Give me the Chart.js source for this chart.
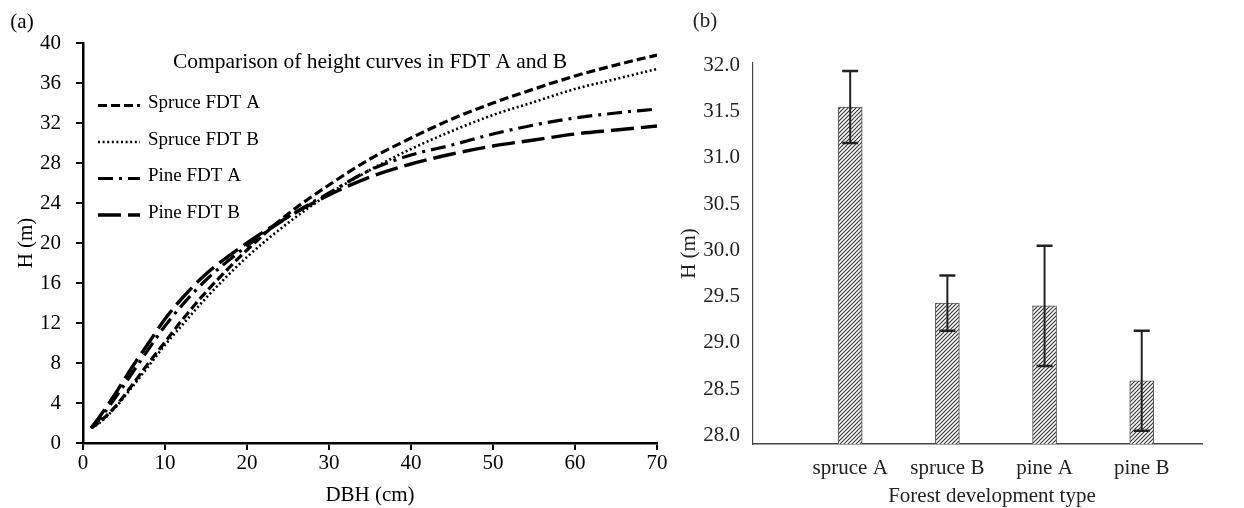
<!DOCTYPE html>
<html><head><meta charset="utf-8">
<script src="https://cdn.jsdelivr.net/npm/chart.js@4.4.1/dist/chart.umd.min.js"></script>
<style>
html,body{margin:0;padding:0;background:#fff;width:1244px;height:508px;overflow:hidden}
#ca{position:absolute;left:0;top:0}
#cb{position:absolute;left:680px;top:0}
</style></head><body>
<canvas id="ca" width="680" height="508"></canvas>
<canvas id="cb" width="564" height="508"></canvas>
<script>
// ---- Panel (a): height curves ----
const dbh      = [1, 2, 4, 6, 8, 10, 12, 15, 20, 25, 30, 35, 40, 45, 50, 55, 60, 65, 70];
const spruceA  = [1.5, 2.1, 3.7, 5.8, 8.0, 10.1, 12.2, 15.1, 19.3, 22.9, 25.8, 28.4, 30.5, 32.4, 34.0, 35.4, 36.7, 37.8, 38.8];
const spruceB  = [1.5, 2.0, 3.6, 5.6, 7.7, 9.8, 11.7, 14.5, 18.6, 22.0, 24.9, 27.3, 29.4, 31.2, 32.8, 34.1, 35.4, 36.4, 37.4];
const pineA    = [1.5, 2.4, 4.6, 7.0, 9.4, 11.7, 13.7, 16.3, 19.7, 22.6, 25.0, 27.3, 28.8, 29.8, 30.9, 31.8, 32.5, 33.0, 33.4];
const pineB    = [1.5, 2.6, 5.0, 7.6, 10.0, 12.4, 14.4, 16.9, 20.0, 22.6, 24.8, 26.6, 27.9, 28.9, 29.7, 30.3, 30.9, 31.3, 31.7];
const seriesNames = ['Spruce FDT A', 'Spruce FDT B', 'Pine FDT A', 'Pine FDT B'];
const xTicksA = [0, 10, 20, 30, 40, 50, 60, 70];
const yTicksA = [0, 4, 8, 12, 16, 20, 24, 28, 32, 36, 40];

// ---- Panel (b): mean height by FDT ----
const fdtLabels = ['spruce A', 'spruce B', 'pine A', 'pine B'];
const fdtPos    = [1, 2, 3, 4];
const meanH     = [31.55, 29.43, 29.40, 28.59];
const errH      = [0.39, 0.30, 0.65, 0.54];
const yTicksB   = [28.0, 28.5, 29.0, 29.5, 30.0, 30.5, 31.0, 31.5, 32.0];

const serif = "'Liberation Serif', 'DejaVu Serif', serif";
Chart.defaults.font.family = serif;
Chart.defaults.color = '#000';

const lineStyles = [
  {dash: [9, 4], width: 3.2},
  {dash: [2, 2.6], width: 2.6},
  {dash: [15, 6, 3, 6], width: 3.2},
  {dash: [23, 7], width: 3.4}
];
const seriesVals = [spruceA, spruceB, pineA, pineB];

const panelA = {
  id: 'panelA',
  afterDraw(chart) {
    const {ctx, chartArea: ca} = chart;
    ctx.save();
    ctx.fillStyle = '#000';
    ctx.textBaseline = 'middle';
    ctx.textAlign = 'center';
    ctx.font = '21.5px ' + serif;
    ctx.fillText('Comparison of height curves in FDT A and B', (ca.left + ca.right) / 2, ca.top + 19);
    ctx.font = '21px ' + serif;
    ctx.fillText('(a)', 22, 22);
    // legend
    ctx.textAlign = 'left';
    ctx.font = '19px ' + serif;
    chart.data.datasets.forEach((ds, i) => {
      const y = ca.top + 60.5 + i * 36.5;
      ctx.save();
      ctx.strokeStyle = '#000';
      ctx.lineWidth = ds.borderWidth;
      ctx.setLineDash(ds.borderDash);
      ctx.beginPath();
      ctx.moveTo(ca.left + 15, y + 2);
      ctx.lineTo(ca.left + 57, y + 2);
      ctx.stroke();
      ctx.restore();
      ctx.fillText(ds.label, ca.left + 65, y);
    });
    ctx.restore();
  }
};

new Chart(document.getElementById('ca'), {
  type: 'line',
  data: {
    datasets: seriesVals.map((vals, i) => ({
      label: seriesNames[i],
      data: dbh.map((d, j) => ({x: d, y: vals[j]})),
      borderColor: '#000',
      borderWidth: lineStyles[i].width,
      borderDash: lineStyles[i].dash,
      borderCapStyle: 'butt',
      pointRadius: 0,
      fill: false,
      cubicInterpolationMode: 'monotone'
    }))
  },
  options: {
    responsive: false, animation: false, devicePixelRatio: 1,
    layout: {padding: {top: 43, right: 23, left: 0, bottom: 0}},
    plugins: {legend: {display: false}, tooltip: {enabled: false}},
    scales: {
      x: {
        type: 'linear', min: 0, max: 70,
        afterBuildTicks: s => { s.ticks = xTicksA.map(v => ({value: v})); },
        afterFit: s => { s.height = 65; },
        border: {color: '#000', width: 2.5},
        grid: {drawOnChartArea: false, color: '#000', lineWidth: 2, tickLength: 7},
        ticks: {font: {size: 21}, color: '#000', padding: 1, maxRotation: 0},
        title: {display: true, text: 'DBH (cm)', font: {size: 21}, color: '#000', padding: {top: 0, bottom: 0}}
      },
      y: {
        type: 'linear', min: 0, max: 40,
        afterBuildTicks: s => { s.ticks = yTicksA.map(v => ({value: v})); },
        afterFit: s => { s.width = 83; },
        border: {color: '#000', width: 2.5},
        grid: {drawOnChartArea: false, color: '#000', lineWidth: 2, tickLength: 7},
        ticks: {font: {size: 21}, color: '#000', padding: 15},
        title: {display: true, text: 'H (m)', font: {size: 21}, color: '#000', padding: {top: 14, bottom: 0}}
      }
    }
  },
  plugins: [panelA]
});

function hatch() {
  const c = document.createElement('canvas');
  c.width = 4; c.height = 4;
  const g = c.getContext('2d');
  g.fillStyle = '#fff'; g.fillRect(0, 0, 4, 4);
  g.strokeStyle = '#333'; g.lineWidth = 1.1;
  g.beginPath();
  g.moveTo(-1, 5); g.lineTo(5, -1);
  g.moveTo(-1, 1); g.lineTo(1, -1);
  g.moveTo(3, 5); g.lineTo(5, 3);
  g.stroke();
  return g.createPattern(c, 'repeat');
}

const panelB = {
  id: 'panelB',
  afterDatasetsDraw(chart) {
    const {ctx} = chart;
    const xs = chart.scales.x, ys = chart.scales.y;
    ctx.save();
    ctx.strokeStyle = '#222';
    fdtPos.forEach((p, i) => {
      const x = xs.getPixelForValue(p);
      const yt = ys.getPixelForValue(meanH[i] + errH[i]);
      const yb = ys.getPixelForValue(meanH[i] - errH[i]);
      ctx.lineWidth = 2;
      ctx.beginPath(); ctx.moveTo(x, yt); ctx.lineTo(x, yb); ctx.stroke();
      ctx.lineWidth = 2.5;
      ctx.beginPath();
      ctx.moveTo(x - 8, yt); ctx.lineTo(x + 8, yt);
      ctx.moveTo(x - 8, yb); ctx.lineTo(x + 8, yb);
      ctx.stroke();
    });
    ctx.restore();
  },
  afterDraw(chart) {
    const {ctx} = chart;
    ctx.save();
    ctx.fillStyle = '#222';
    ctx.textAlign = 'center';
    ctx.textBaseline = 'middle';
    ctx.font = '21px ' + serif;
    ctx.fillText('(b)', 25, 21);
    const xs = chart.scales.x;
    const cx = (xs.getPixelForValue(fdtPos[0]) + xs.getPixelForValue(fdtPos[fdtPos.length - 1])) / 2;
    ctx.fillText('Forest development type', cx - 4, 496);
    ctx.restore();
  }
};

new Chart(document.getElementById('cb'), {
  type: 'bar',
  data: {
    datasets: [{
      label: 'H',
      data: fdtPos.map((p, i) => ({x: p, y: meanH[i]})),
      backgroundColor: hatch(),
      borderColor: '#555',
      borderWidth: 1,
      barThickness: 24
    }]
  },
  options: {
    responsive: false, animation: false, devicePixelRatio: 1,
    layout: {padding: {top: 63, right: 42, left: 0, bottom: 0}},
    plugins: {legend: {display: false}, tooltip: {enabled: false}},
    scales: {
      x: {
        type: 'linear', min: 0, max: 4.62, offset: false,
        afterBuildTicks: s => { s.ticks = fdtPos.map(v => ({value: v})); },
        afterFit: s => { s.height = 64; },
        border: {color: '#444', width: 1.5},
        grid: {drawOnChartArea: false, drawTicks: false},
        ticks: {font: {size: 21}, color: '#222', padding: 12, maxRotation: 0, autoSkip: false,
                callback: v => fdtLabels[fdtPos.indexOf(v)]}
      },
      y: {
        type: 'linear', min: 27.907, max: 32.026,
        afterBuildTicks: s => { s.ticks = yTicksB.map(v => ({value: v})); },
        afterFit: s => { s.width = 73; },
        border: {color: '#444', width: 1.2},
        grid: {drawOnChartArea: false, drawTicks: false},
        ticks: {font: {size: 21}, color: '#222', padding: 13, callback: v => v.toFixed(1)},
        title: {display: true, text: 'H (m)', font: {size: 21}, color: '#222', padding: {top: -3.5, bottom: 0}}
      }
    }
  },
  plugins: [panelB]
});
</script>
</body></html>
